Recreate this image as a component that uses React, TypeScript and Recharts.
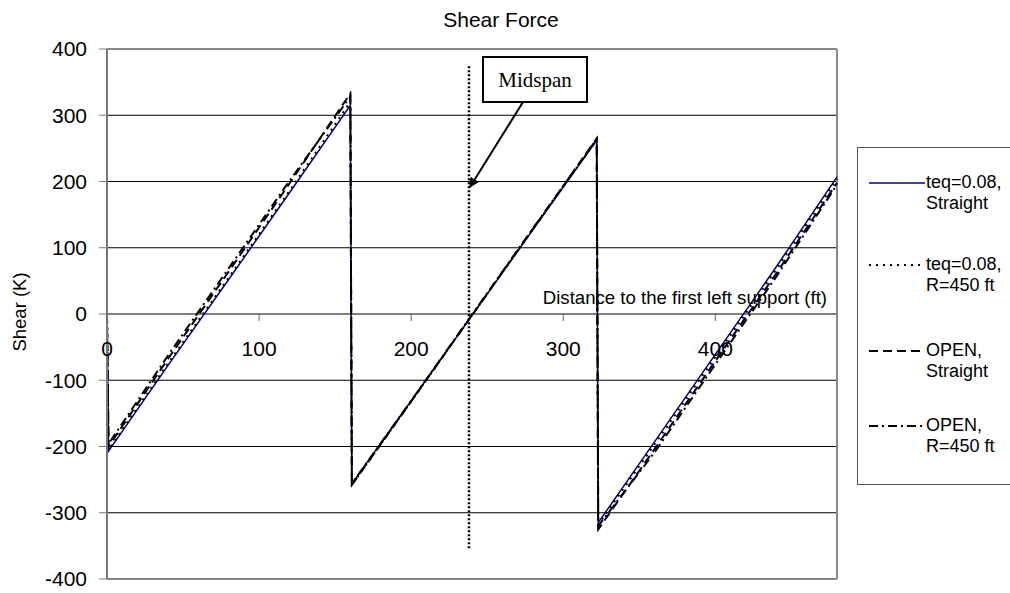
import { LineChart, Line, XAxis, YAxis, CartesianGrid, ReferenceLine, ReferenceDot, Legend } from 'recharts';

const distance = [0, 1, 40, 80, 120, 160, 161, 200, 240, 280, 322, 323, 360, 400, 440, 480];
const teqStraight = [0, -207, -78, 52, 183, 315, -256, -131, -2, 127, 262, -315, -193, -61, 71, 207];
const teqCurved = [0, -205, -75, 55, 186, 320, -258, -132, -2, 128, 263, -318, -197, -65, 67, 204];
const openStraight = [0, -200, -68, 64, 197, 333, -258, -132, -2, 128, 265, -325, -204, -71, 61, 198];
const openCurved = [0, -196, -63, 69, 201, 328, -256, -131, -1, 129, 264, -320, -209, -76, 56, 195];

const xTicks = [0, 100, 200, 300, 400];
const yTicks = [-400, -300, -200, -100, 0, 100, 200, 300, 400];
const midspanX = 238;

const series = [
  { key: 'teqStraight', lines: ['teq=0.08,', 'Straight'], color: '#000080', width: 1.5, dash: undefined },
  { key: 'teqCurved', lines: ['teq=0.08,', 'R=450 ft'], color: '#000', width: 2, dash: '2 5' },
  { key: 'openStraight', lines: ['OPEN,', 'Straight'], color: '#000', width: 2, dash: '9 5' },
  { key: 'openCurved', lines: ['OPEN,', 'R=450 ft'], color: '#000', width: 2, dash: '9 4 2 4' },
];

const data = distance.map((x, i) => ({
  x,
  teqStraight: teqStraight[i],
  teqCurved: teqCurved[i],
  openStraight: openStraight[i],
  openCurved: openCurved[i],
}));

const font = 'Liberation Sans, Arial, sans-serif';
const legendTops = [182, 264, 350, 425];

function LegendBox() {
  return (
    <div style={{ position: 'relative', width: 200, height: 338, border: '1.5px solid #555', boxSizing: 'border-box', background: '#fff', fontFamily: font, fontSize: 18 }}>
      {series.map((s, i) => (
        <div key={s.key} style={{ position: 'absolute', left: 11, top: legendTops[i] - 147 - 11 }}>
          <svg width={56} height={22} style={{ position: 'absolute', left: 0, top: 0 }}>
            <line x1={0} y1={11} x2={56} y2={11} stroke={s.color} strokeWidth={s.width} strokeDasharray={s.dash} />
          </svg>
          <div style={{ position: 'absolute', left: 57, top: 0, lineHeight: '21px', whiteSpace: 'nowrap', color: '#000' }}>
            {s.lines[0]}
            <br />
            {s.lines[1]}
          </div>
        </div>
      ))}
    </div>
  );
}

function XTick(props: any) {
  const { cx, cy, payload } = props;
  return (
    <g>
      <line x1={cx} y1={cy} x2={cx} y2={cy + 7} stroke="#666" strokeWidth={1} />
      <text x={cx} y={cy + 42} textAnchor="middle" fontSize={21} fontFamily={font} fill="#000">{payload}</text>
    </g>
  );
}

export default function App() {
  return (
    <div style={{ position: 'absolute', left: 0, top: 0, width: 1010, height: 593, background: '#fff', overflow: 'hidden' }}>
      <LineChart width={1010} height={593} data={data} margin={{ top: 49, right: 173, bottom: 14, left: 0 }}>
        <text x={501} y={27} textAnchor="middle" fontSize={21} fontFamily={font} fill="#000">Shear Force</text>
        <text x={0} y={0} transform="translate(26,312) rotate(-90)" textAnchor="middle" fontSize={18.5} fontFamily={font} fill="#000">Shear (K)</text>
        <CartesianGrid vertical={false} stroke="#000" strokeWidth={1} />
        <XAxis dataKey="x" type="number" domain={[0, 480]} ticks={xTicks} hide />
        <YAxis
          type="number"
          domain={[-400, 400]}
          ticks={yTicks}
          width={107}
          tickSize={8}
          tickMargin={12}
          tick={{ fontSize: 21, fontFamily: font, fill: '#000' }}
          axisLine={{ stroke: '#777', strokeWidth: 2 }}
          tickLine={{ stroke: '#777' }}
        />
        <ReferenceLine y={400} stroke="#888" strokeWidth={1.5} />
        <ReferenceLine y={-400} stroke="#888" strokeWidth={1.5} />
        <ReferenceLine x={480} stroke="#888" strokeWidth={2} />
        {series.map((s) => (
          <Line
            key={s.key}
            dataKey={s.key}
            type="linear"
            stroke={s.color}
            strokeWidth={s.width}
            strokeDasharray={s.dash}
            dot={false}
            isAnimationActive={false}
          />
        ))}
        <ReferenceLine
          segment={[{ x: midspanX, y: 374 }, { x: midspanX, y: -354 }]}
          stroke="#000"
          strokeWidth={2.5}
          strokeDasharray="2 2"
        />
        {xTicks.map((t) => (
          <ReferenceDot key={t} x={t} y={0} r={0} shape={(p: any) => <XTick {...p} payload={t} />} />
        ))}
        <ReferenceDot
          x={480}
          y={0}
          r={0}
          shape={(p: any) => (
            <text x={p.cx - 10} y={p.cy - 10} textAnchor="end" fontSize={18.6} fontFamily={font} fill="#000">
              Distance to the first left support (ft)
            </text>
          )}
        />
        <Legend
          layout="vertical"
          align="center"
          verticalAlign="middle"
          content={() => <LegendBox />}
          wrapperStyle={{ position: 'absolute', left: 857, top: 147, width: 200, height: 338 }}
        />
      </LineChart>
      <svg width={1010} height={593} style={{ position: 'absolute', left: 0, top: 0, pointerEvents: 'none' }}>
        <defs>
          <marker id="arrowHead" markerWidth="10" markerHeight="10" refX="9" refY="5" orient="auto" markerUnits="userSpaceOnUse">
            <path d="M0,0 L10,5 L0,10 z" fill="#000" />
          </marker>
        </defs>
        <line x1={523} y1={102} x2={470} y2={187} stroke="#000" strokeWidth={2} markerEnd="url(#arrowHead)" />
        <rect x={483} y={57} width={104} height={45} fill="#fff" stroke="#000" strokeWidth={2} />
        <text x={535} y={87} textAnchor="middle" fontSize={21} fontFamily="Liberation Serif, Times New Roman, serif" fill="#000">Midspan</text>
      </svg>
    </div>
  );
}
